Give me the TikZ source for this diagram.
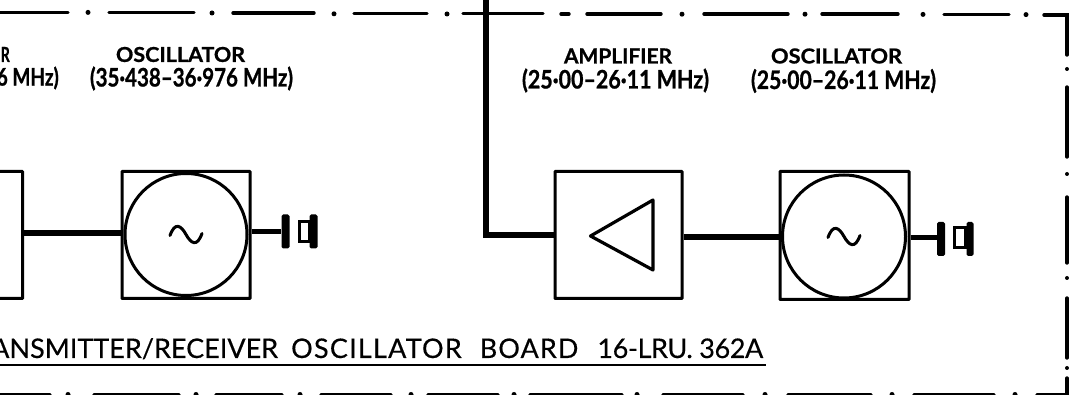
\documentclass[tikz,border=0pt]{standalone}
\usetikzlibrary{calc}
\usepackage{fontspec}
\setmainfont{Lato}
\newfontfamily\titlefont[FakeBold=0.35]{Lato}
\newfontfamily\labelfont[FakeBold=0.9]{Lato Bold}
\newcommand{\fitlabel}[3]{\resizebox{#1pt}{#2pt}{\labelfont #3}}
\newcommand{\spaced}[2]{{\addfontfeature{LetterSpace=#1}#2}}
\tikzset{
  blockbox/.style={draw,line width=3pt,minimum width=127pt,minimum height=127pt,inner sep=0pt,rounded corners=0.6pt},
  oscdisc/.style={circle,draw,line width=3pt,inner sep=0pt},
  bigline/.style={line width=5.6pt},
  oscline/.style={line width=5pt},
  thin outline/.style={line width=3.2pt,line join=round},
  frameline/.style={line width=3.4pt,line cap=round},
  framedot/.style={fill,circle,inner sep=0pt,minimum size=5pt},
  spkbar/.style={fill,rounded corners=1.6pt,minimum width=7pt,minimum height=34pt,inner sep=0pt},
  spkbox/.style={draw,line width=3pt,inner sep=0pt,minimum width=10pt},
  txt/.style={inner sep=0pt},
  wave/.pic={\draw[line width=3pt,line cap=round] (-16,1) .. controls (-11,-13) and (-5,-9) .. (0,0) .. controls (5,9) and (11,13) .. (16,-1);}
}
\begin{document}
\begin{tikzpicture}[x=1pt,y=-1pt]
\useasboundingbox (0,0) rectangle (1069,395);
\clip (0,0) rectangle (1069,395);
\fill[white] (0,0) rectangle (1069,395);

% top frame line
\foreach \a/\b/\y in {-5/68/12.6,109/194/12.6,233/314/13,354/427/13.6,463/543/13.6,561/569/14,587/661/14,704/788/14,822/898/14,944/1009/14.4}
  \draw[frameline] (\a,\y) -- (\b,\y);
\foreach \a/\y in {88/12.4,212/13,334/13.8,447/14,682/14.2,805/14.2,923/14.4,1026/14.6}
  \node[framedot] (topdot\a) at (\a,\y) {};
% right frame line
\draw[frameline] (1044,15) -- (1067,15) -- (1067,55);
\foreach \a/\b in {87/157,197/263,298/358,378/400}
  \draw[frameline] (1067,\a) -- (1067,\b);
\foreach \y in {69,174,278,368}
  \node[framedot,minimum size=4pt] (rightdot\y) at (1067,\y) {};
% bottom frame line
\foreach \a/\b in {-5/50,94/179,216/282,321/391,428/498,530/622,663/743,788/871,914/994,1037/1075}
  \draw[frameline] (\a,394.5) -- (\b,394.5);
\foreach \a in {68,196,300,411,514,637,765,892,1015}
  \node[framedot] (botdot\a) at (\a,394.5) {};

% blocks
\node[blockbox] (box0) at (-41,235) {};
\node[blockbox,minimum width=128pt] (osc1) at (186,235) {};
\node[oscdisc,minimum size=122pt,fill=white] (disc1) at (186,234.5) {};
\node[blockbox,minimum width=127pt] (amp) at (618.5,235) {};
\node[blockbox,minimum width=129pt,minimum height=128pt] (osc2) at (844.5,235.5) {};
\node[oscdisc,minimum size=123pt,fill=white] (disc2) at (844,236.5) {};
\pic at (disc1) {wave};
\pic at (disc2) {wave};
\draw[thin outline] ($(amp.center)+(-28,1)$) -- ($(amp.center)+(34.5,-35)$) -- ($(amp.center)+(34.5,35)$) -- cycle;

% speakers
\node[spkbar,minimum width=8pt] (bar1) at (285.5,231.5) {};
\node[spkbox,minimum height=20pt] (cone1) at (304.5,232) {};
\node[spkbar,minimum width=8pt] (horn1) at (313.5,231.5) {};
\node[spkbar,minimum width=8pt] (bar2) at (941,239) {};
\node[spkbox,minimum height=20pt,minimum width=11pt] (cone2) at (960,238) {};
\node[spkbar] (horn2) at (970,239) {};

% connectors
\coordinate (feedtop) at (486,-3);
\draw[bigline,line join=miter] (feedtop) |- (amp.west);
\draw[bigline] (box0.east |- 0,233) -- (osc1.west |- 0,233);
\draw[bigline] (amp.east |- 0,237) -- (osc2.west |- 0,237);
\draw[oscline] (osc1.east |- bar1.west) -- (bar1.west);
\draw[oscline] (osc2.east |- 0,238) -- (bar2.west |- 0,238);

% labels
\node[txt,anchor=east] (lbl0a) at (10,54.5) {\fitlabel{9}{15}{R}};
\node[txt,anchor=east] (lbl0b) at (59,78) {\fitlabel{62}{19}{6 MHz)}};
\node[txt] (lbl1a) at (180.5,54.5) {\fitlabel{129}{15}{OSCILLATOR}};
\node[txt] (lbl1b) at (191.5,78.5) {\fitlabel{203}{20}{(35·438–36·976 MHz)}};
\node[txt] (lbl2a) at (618,56) {\fitlabel{108}{15}{AMPLIFIER}};
\node[txt] (lbl2b) at (615.5,80.5) {\fitlabel{187}{20}{(25·00–26·11 MHz)}};
\node[txt] (lbl3a) at (836.5,56) {\fitlabel{131}{15}{OSCILLATOR}};
\node[txt] (lbl3b) at (843.5,81) {\fitlabel{185}{20}{(25·00–26·11 MHz)}};

% title
\node[txt,anchor=base west] (title) at (-9,358) {\titlefont\fontsize{27}{30}\selectfont ANSMITTER/RECEIVER\hspace{13pt}\spaced{4.5}{OSCILLATOR}\hspace{18pt}\spaced{4}{BOARD}\hspace{19pt}\spaced{-1.5}{16-LRU. 362A}};
\coordinate (ulstart) at (-3,365);
\coordinate (ulend) at (766,365);
\draw[line width=2.2pt] (ulstart) -- (ulend);
\end{tikzpicture}
\end{document}
